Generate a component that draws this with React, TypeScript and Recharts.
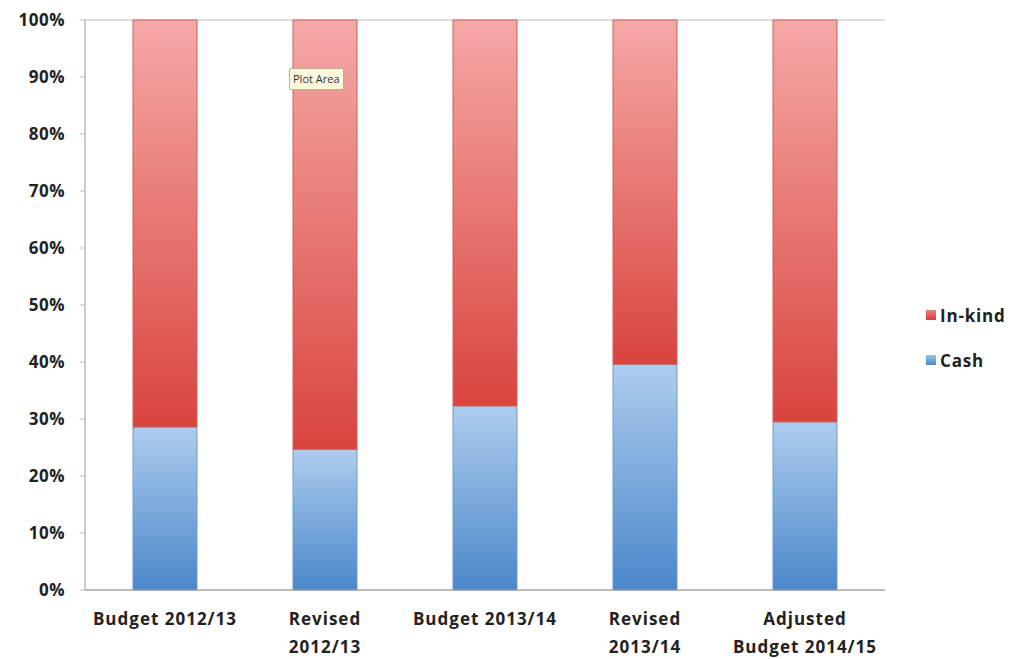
import React from "react";
import { BarChart, Bar, XAxis, YAxis, CartesianGrid } from "recharts";

const categories = ["Budget 2012/13", "Revised\n2012/13", "Budget 2013/14", "Revised\n2013/14", "Adjusted\nBudget 2014/15"];
const cashValues = [28.6, 24.7, 32.3, 39.6, 29.5];
const inKindValues = [71.4, 75.3, 67.7, 60.4, 70.5];
const yTicks = [0, 10, 20, 30, 40, 50, 60, 70, 80, 90, 100];

const data = categories.map((c, i) => ({ name: c, cash: cashValues[i], inkind: inKindValues[i] }));

const FONT = "'Open Sans', 'DejaVu Sans', sans-serif";

const XTick = (props: any) => {
  const { x, y, payload } = props;
  const lines = String(payload.value).split("\n");
  return (
    <text x={x} y={y} textAnchor="middle" fill="#222" fontFamily={FONT} fontWeight={700} fontSize={17} letterSpacing={1}>
      {lines.map((l, i) => (
        <tspan key={i} x={x} dy={i === 0 ? 27 : 28}>{l}</tspan>
      ))}
    </text>
  );
};

const LegendBox = () => (
  <div style={{ position: "absolute", left: 926, top: 302, fontFamily: FONT, fontWeight: 700, fontSize: 17, letterSpacing: 0.8, color: "#222" }}>
    <div style={{ display: "flex", alignItems: "center", height: 26 }}>
      <span style={{ width: 10, height: 10, background: "linear-gradient(#f08080,#d33a3a)", marginRight: 4, display: "inline-block" }} />
      In-kind
    </div>
    <div style={{ display: "flex", alignItems: "center", height: 26, marginTop: 19 }}>
      <span style={{ width: 10, height: 10, background: "linear-gradient(#9cc3ea,#4a86c8)", marginRight: 4, display: "inline-block" }} />
      Cash
    </div>
  </div>
);

export default function App() {
  return (
    <div style={{ position: "absolute", left: 0, top: 0, width: 1014, height: 659, background: "#fff" }}>
      <BarChart width={1014} height={659} data={data} margin={{ top: 20, right: 129, left: 0, bottom: 0 }} barCategoryGap="30%">
        <defs>
          <linearGradient id="gCash" x1="0" y1="0" x2="0" y2="1">
            <stop offset="0%" stopColor="#aecdee" />
            <stop offset="100%" stopColor="#4a87c9" />
          </linearGradient>
          <linearGradient id="gKind" x1="0" y1="0" x2="0" y2="1">
            <stop offset="0%" stopColor="#f5a9a8" />
            <stop offset="100%" stopColor="#d9443d" />
          </linearGradient>
        </defs>
        <CartesianGrid vertical={false} stroke="#bdbdbd" />
        <XAxis dataKey="name" tick={<XTick />} tickLine={false} height={69} axisLine={{ stroke: "#9a9a9a" }} interval={0} />
        <YAxis
          yAxisId="left"
          domain={[0, 100]}
          ticks={yTicks}
          tickFormatter={(v: number) => `${v}%`}
          width={85}
          tickSize={5}
          tickMargin={15}
          axisLine={{ stroke: "#9a9a9a" }}
          tickLine={{ stroke: "#bdbdbd" }}
          tick={{ fill: "#222", fontFamily: FONT, fontWeight: 700, fontSize: 17, letterSpacing: 0.5 }}
        />
        <YAxis yAxisId="right" orientation="right" width={0} domain={[0, 100]} tick={false} tickLine={false} axisLine={{ stroke: "#9a9a9a" }} />
        <Bar yAxisId="left" dataKey="cash" stackId="a" fill="url(#gCash)" stroke="#6d9bcc" strokeWidth={1} isAnimationActive={false} />
        <Bar yAxisId="left" dataKey="inkind" stackId="a" fill="url(#gKind)" stroke="#c9605a" strokeWidth={1} isAnimationActive={false} />
      </BarChart>
      <LegendBox />
      <div style={{ position: "absolute", left: 289, top: 68, padding: "2px 3px", background: "#fdf8dc", border: "1px solid #b8b08a", borderRadius: 2, fontFamily: FONT, fontSize: 11, color: "#333", lineHeight: "16px" }}>
        Plot Area
      </div>
    </div>
  );
}
